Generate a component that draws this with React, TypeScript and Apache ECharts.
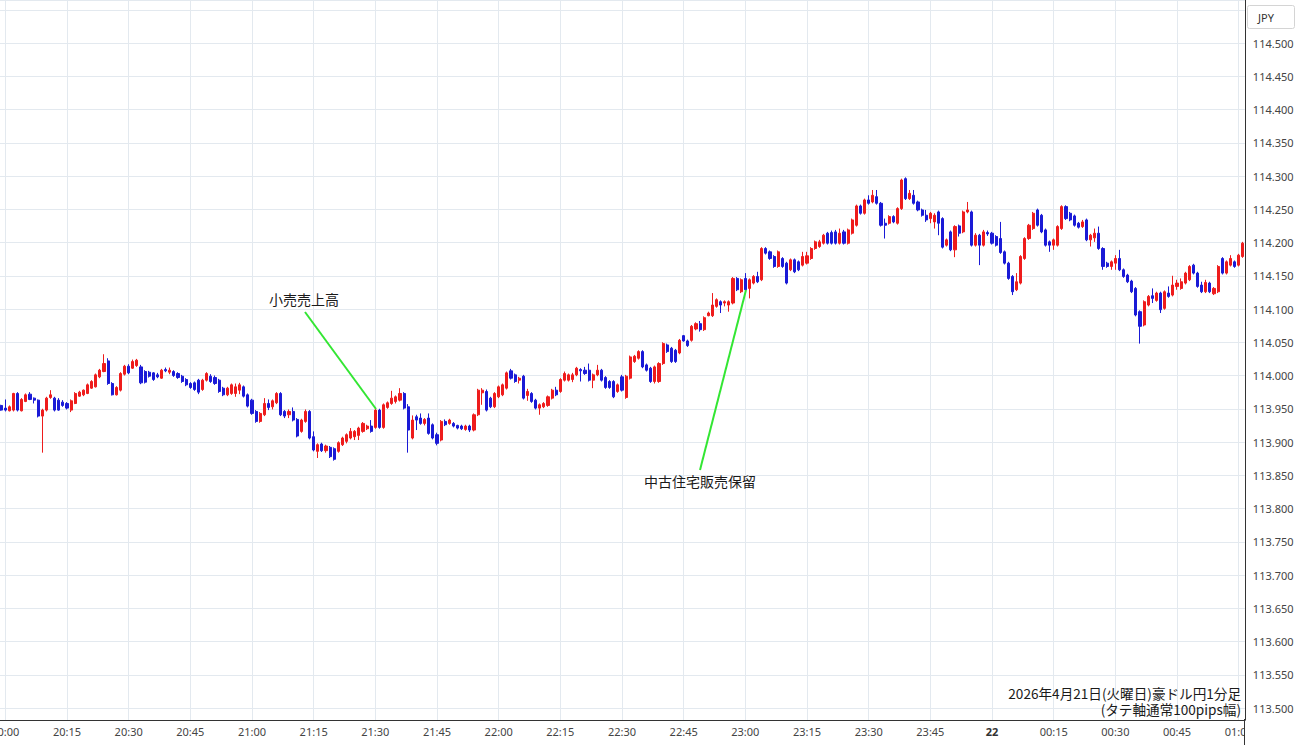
import React, { useEffect, useRef } from "react";
import * as echarts from "echarts";

// first candle time (minutes after 00:00 of the 21st): 19:59
const startMinute = 19 * 60 + 59;
const xTickStep = 15; // minutes
const yTickStep = 0.05; // price
const currencyLabel = "JPY";
const titleLines = ["2026年4月21日(火曜日)豪ドル円1分足", "(タテ軸通常100pips幅)"];
const eventLabels = ["小売売上高", "中古住宅販売保留"];

// [open, close, low, high]
const candles: number[][] = [
  [113.955, 113.948, 113.947, 113.956], [113.951, 113.948, 113.946, 113.964], [113.947, 113.953, 113.946, 113.955],
  [113.948, 113.973, 113.946, 113.974], [113.973, 113.948, 113.946, 113.975], [113.947, 113.964, 113.946, 113.966],
  [113.961, 113.971, 113.960, 113.973], [113.972, 113.964, 113.963, 113.975], [113.966, 113.963, 113.958, 113.967],
  [113.963, 113.939, 113.937, 113.964], [113.939, 113.948, 113.884, 113.950], [113.948, 113.966, 113.946, 113.968],
  [113.967, 113.971, 113.965, 113.978], [113.966, 113.948, 113.946, 113.968], [113.963, 113.948, 113.947, 113.966],
  [113.960, 113.955, 113.953, 113.963], [113.958, 113.951, 113.949, 113.960], [113.948, 113.962, 113.945, 113.964],
  [113.958, 113.973, 113.957, 113.975], [113.969, 113.975, 113.968, 113.977], [113.971, 113.978, 113.969, 113.979],
  [113.973, 113.986, 113.972, 113.988], [113.981, 113.991, 113.980, 113.993], [113.983, 114.001, 113.982, 114.003],
  [113.998, 114.008, 113.996, 114.010], [114.006, 114.018, 114.005, 114.032], [114.022, 113.988, 113.986, 114.026],
  [113.988, 113.971, 113.970, 113.990], [113.971, 113.982, 113.970, 113.984], [113.978, 114.003, 113.976, 114.005],
  [114.002, 114.014, 114.000, 114.016], [114.014, 114.004, 114.002, 114.017], [114.011, 114.021, 114.010, 114.024],
  [114.015, 114.023, 114.013, 114.025], [114.013, 113.989, 113.987, 114.016], [114.006, 113.990, 113.988, 114.008],
  [114.005, 113.999, 113.997, 114.007], [114.004, 113.994, 113.992, 114.005], [114.001, 113.998, 113.996, 114.004],
  [113.996, 114.008, 113.995, 114.010], [114.009, 114.007, 114.005, 114.012], [114.005, 114.008, 114.002, 114.012],
  [114.006, 114.000, 113.998, 114.008], [114.003, 113.997, 113.995, 114.005], [113.999, 113.991, 113.989, 114.001],
  [113.994, 113.986, 113.984, 113.996], [113.988, 113.982, 113.980, 113.990], [113.989, 113.979, 113.977, 113.991],
  [113.993, 113.975, 113.972, 113.995], [113.979, 113.993, 113.977, 113.995], [113.993, 114.003, 113.991, 114.005],
  [113.999, 113.991, 113.989, 114.002], [113.997, 113.988, 113.986, 114.000], [113.993, 113.976, 113.974, 113.995],
  [113.981, 113.971, 113.969, 113.983], [113.971, 113.981, 113.969, 113.983], [113.973, 113.986, 113.971, 113.988],
  [113.973, 113.983, 113.968, 113.988], [113.978, 113.986, 113.972, 113.989], [113.983, 113.969, 113.967, 113.985],
  [113.971, 113.954, 113.952, 113.973], [113.963, 113.943, 113.941, 113.965], [113.946, 113.931, 113.929, 113.948],
  [113.931, 113.943, 113.929, 113.945], [113.941, 113.958, 113.939, 113.966], [113.958, 113.952, 113.948, 113.964],
  [113.953, 113.962, 113.949, 113.964], [113.959, 113.973, 113.957, 113.975], [113.973, 113.941, 113.939, 113.975],
  [113.946, 113.939, 113.936, 113.948], [113.941, 113.946, 113.936, 113.949], [113.946, 113.933, 113.931, 113.952],
  [113.934, 113.909, 113.907, 113.936], [113.916, 113.933, 113.914, 113.935], [113.931, 113.946, 113.929, 113.949],
  [113.946, 113.906, 113.904, 113.948], [113.908, 113.888, 113.886, 113.916], [113.886, 113.896, 113.876, 113.898],
  [113.897, 113.887, 113.885, 113.899], [113.887, 113.894, 113.884, 113.896], [113.892, 113.878, 113.876, 113.894],
  [113.890, 113.874, 113.872, 113.892], [113.886, 113.899, 113.884, 113.901], [113.896, 113.906, 113.894, 113.908],
  [113.901, 113.911, 113.898, 113.913], [113.906, 113.916, 113.904, 113.921], [113.908, 113.916, 113.903, 113.918],
  [113.910, 113.921, 113.903, 113.923], [113.916, 113.928, 113.914, 113.930], [113.920, 113.924, 113.918, 113.926],
  [113.924, 113.916, 113.914, 113.933], [113.922, 113.948, 113.920, 113.952], [113.948, 113.922, 113.920, 113.950],
  [113.922, 113.956, 113.920, 113.958], [113.952, 113.959, 113.950, 113.961], [113.958, 113.966, 113.956, 113.977],
  [113.961, 113.968, 113.958, 113.970], [113.963, 113.973, 113.961, 113.981], [113.973, 113.951, 113.949, 113.975],
  [113.953, 113.918, 113.884, 113.957], [113.906, 113.933, 113.904, 113.940], [113.938, 113.933, 113.918, 113.941],
  [113.936, 113.928, 113.926, 113.943], [113.928, 113.934, 113.925, 113.936], [113.936, 113.913, 113.911, 113.943],
  [113.926, 113.906, 113.904, 113.928], [113.911, 113.898, 113.895, 113.914], [113.903, 113.931, 113.901, 113.933],
  [113.931, 113.926, 113.924, 113.934], [113.928, 113.933, 113.926, 113.935], [113.928, 113.924, 113.922, 113.930],
  [113.925, 113.921, 113.919, 113.926], [113.924, 113.920, 113.918, 113.926], [113.919, 113.924, 113.917, 113.926],
  [113.924, 113.918, 113.915, 113.926], [113.918, 113.941, 113.916, 113.943], [113.941, 113.978, 113.939, 113.980],
  [113.974, 113.978, 113.956, 113.981], [113.976, 113.948, 113.946, 113.979], [113.966, 113.953, 113.951, 113.968],
  [113.953, 113.973, 113.951, 113.975], [113.968, 113.983, 113.966, 113.985], [113.971, 113.986, 113.969, 113.988],
  [113.981, 114.004, 113.979, 114.006], [114.007, 113.996, 113.994, 114.010], [114.001, 113.991, 113.989, 114.003],
  [113.993, 113.996, 113.988, 113.998], [113.999, 113.966, 113.964, 114.001], [113.970, 113.976, 113.962, 113.980],
  [113.973, 113.961, 113.959, 113.975], [113.963, 113.951, 113.949, 113.965], [113.951, 113.956, 113.941, 113.958],
  [113.953, 113.958, 113.951, 113.960], [113.955, 113.968, 113.953, 113.970], [113.966, 113.978, 113.964, 113.980],
  [113.978, 113.971, 113.969, 113.983], [113.976, 113.994, 113.974, 113.996], [113.993, 114.003, 113.991, 114.006],
  [113.993, 114.001, 113.991, 114.003], [113.994, 114.001, 113.990, 114.004], [114.001, 114.011, 113.999, 114.013],
  [114.009, 114.007, 113.991, 114.011], [114.008, 114.003, 114.001, 114.013], [114.008, 113.993, 113.991, 114.018],
  [113.993, 114.001, 113.981, 114.003], [114.001, 114.008, 113.999, 114.016], [114.008, 113.993, 113.991, 114.010],
  [113.997, 113.982, 113.980, 113.999], [113.991, 113.982, 113.980, 113.993], [113.991, 113.968, 113.966, 113.993],
  [113.976, 113.986, 113.974, 113.988], [113.998, 113.978, 113.976, 114.001], [113.967, 113.999, 113.965, 114.001],
  [113.996, 114.028, 113.994, 114.030], [114.021, 114.029, 114.019, 114.031], [114.026, 114.036, 114.024, 114.038],
  [114.036, 114.013, 114.011, 114.038], [114.016, 114.008, 114.006, 114.018], [114.011, 113.991, 113.989, 114.013],
  [113.991, 114.013, 113.988, 114.015], [113.991, 114.018, 113.989, 114.020], [114.018, 114.048, 114.016, 114.050],
  [114.046, 114.036, 114.034, 114.048], [114.041, 114.021, 114.019, 114.043], [114.038, 114.021, 114.019, 114.040],
  [114.034, 114.053, 114.032, 114.055], [114.060, 114.052, 114.051, 114.061], [114.052, 114.045, 114.043, 114.054],
  [114.053, 114.074, 114.051, 114.076], [114.070, 114.078, 114.068, 114.080], [114.078, 114.069, 114.066, 114.082],
  [114.069, 114.087, 114.067, 114.089], [114.090, 114.094, 114.089, 114.096], [114.090, 114.106, 114.088, 114.124],
  [114.104, 114.114, 114.102, 114.116], [114.111, 114.106, 114.094, 114.113], [114.109, 114.111, 114.104, 114.113],
  [114.106, 114.111, 114.096, 114.113], [114.109, 114.146, 114.107, 114.148], [114.146, 114.129, 114.127, 114.148],
  [114.126, 114.144, 114.124, 114.146], [114.146, 114.129, 114.127, 114.154], [114.131, 114.144, 114.116, 114.146],
  [114.139, 114.149, 114.137, 114.151], [114.149, 114.141, 114.139, 114.156], [114.144, 114.191, 114.142, 114.193],
  [114.191, 114.184, 114.182, 114.193], [114.186, 114.176, 114.174, 114.188], [114.179, 114.164, 114.162, 114.181],
  [114.164, 114.186, 114.162, 114.188], [114.176, 114.164, 114.162, 114.178], [114.169, 114.139, 114.137, 114.171],
  [114.159, 114.174, 114.157, 114.176], [114.174, 114.156, 114.154, 114.176], [114.171, 114.159, 114.157, 114.173],
  [114.166, 114.179, 114.164, 114.186], [114.169, 114.180, 114.167, 114.186], [114.176, 114.191, 114.174, 114.193],
  [114.191, 114.201, 114.189, 114.203], [114.194, 114.201, 114.192, 114.204], [114.199, 114.211, 114.197, 114.213],
  [114.214, 114.199, 114.197, 114.216], [114.215, 114.199, 114.197, 114.218], [114.216, 114.199, 114.197, 114.219],
  [114.199, 114.214, 114.197, 114.221], [114.216, 114.199, 114.197, 114.219], [114.199, 114.219, 114.197, 114.221],
  [114.214, 114.234, 114.212, 114.236], [114.226, 114.255, 114.224, 114.257], [114.255, 114.244, 114.242, 114.257],
  [114.244, 114.264, 114.242, 114.266], [114.264, 114.259, 114.257, 114.271], [114.261, 114.271, 114.259, 114.279],
  [114.269, 114.259, 114.257, 114.279], [114.259, 114.226, 114.224, 114.261], [114.229, 114.226, 114.206, 114.236],
  [114.229, 114.239, 114.227, 114.241], [114.239, 114.231, 114.229, 114.241], [114.229, 114.251, 114.227, 114.253],
  [114.251, 114.294, 114.249, 114.296], [114.296, 114.266, 114.264, 114.298], [114.266, 114.274, 114.264, 114.279],
  [114.271, 114.259, 114.257, 114.279], [114.261, 114.249, 114.247, 114.263], [114.249, 114.241, 114.239, 114.251],
  [114.241, 114.234, 114.231, 114.249], [114.236, 114.244, 114.229, 114.246], [114.231, 114.241, 114.221, 114.244],
  [114.246, 114.229, 114.211, 114.248], [114.236, 114.193, 114.191, 114.238], [114.196, 114.204, 114.194, 114.206],
  [114.216, 114.189, 114.187, 114.218], [114.189, 114.224, 114.178, 114.226], [114.225, 114.214, 114.209, 114.227],
  [114.216, 114.246, 114.214, 114.248], [114.246, 114.249, 114.244, 114.261], [114.246, 114.196, 114.194, 114.248],
  [114.196, 114.211, 114.194, 114.214], [114.211, 114.196, 114.166, 114.213], [114.196, 114.216, 114.194, 114.219],
  [114.215, 114.213, 114.210, 114.218], [114.214, 114.199, 114.197, 114.216], [114.209, 114.196, 114.194, 114.211],
  [114.206, 114.185, 114.183, 114.231], [114.186, 114.169, 114.167, 114.188], [114.169, 114.146, 114.144, 114.171],
  [114.149, 114.126, 114.121, 114.151], [114.129, 114.141, 114.127, 114.154], [114.139, 114.179, 114.137, 114.181],
  [114.176, 114.206, 114.174, 114.208], [114.206, 114.226, 114.204, 114.228], [114.221, 114.244, 114.219, 114.246],
  [114.249, 114.226, 114.224, 114.251], [114.241, 114.216, 114.214, 114.243], [114.219, 114.196, 114.194, 114.221],
  [114.201, 114.196, 114.186, 114.203], [114.196, 114.204, 114.189, 114.206], [114.196, 114.224, 114.194, 114.226],
  [114.221, 114.254, 114.219, 114.256], [114.254, 114.236, 114.234, 114.256], [114.244, 114.234, 114.232, 114.246],
  [114.240, 114.226, 114.224, 114.242], [114.229, 114.223, 114.221, 114.231], [114.224, 114.231, 114.222, 114.234],
  [114.234, 114.204, 114.202, 114.236], [114.204, 114.211, 114.194, 114.213], [114.207, 114.214, 114.201, 114.221],
  [114.214, 114.191, 114.189, 114.224], [114.191, 114.164, 114.159, 114.193], [114.169, 114.164, 114.162, 114.171],
  [114.164, 114.171, 114.159, 114.173], [114.169, 114.176, 114.159, 114.181], [114.176, 114.159, 114.157, 114.189],
  [114.159, 114.149, 114.147, 114.161], [114.151, 114.141, 114.139, 114.153], [114.142, 114.126, 114.124, 114.144],
  [114.131, 114.091, 114.089, 114.133], [114.096, 114.074, 114.048, 114.098], [114.076, 114.111, 114.074, 114.113],
  [114.106, 114.119, 114.104, 114.121], [114.120, 114.116, 114.109, 114.131], [114.113, 114.124, 114.111, 114.126],
  [114.124, 114.099, 114.094, 114.126], [114.101, 114.126, 114.099, 114.128], [114.124, 114.119, 114.117, 114.134],
  [114.121, 114.136, 114.119, 114.150], [114.134, 114.139, 114.129, 114.144], [114.131, 114.141, 114.129, 114.146],
  [114.139, 114.154, 114.137, 114.156], [114.144, 114.164, 114.142, 114.166], [114.166, 114.154, 114.152, 114.168],
  [114.154, 114.134, 114.132, 114.156], [114.136, 114.126, 114.124, 114.141], [114.126, 114.140, 114.124, 114.144],
  [114.139, 114.126, 114.124, 114.141], [114.123, 114.131, 114.121, 114.133], [114.126, 114.164, 114.124, 114.166],
  [114.176, 114.154, 114.152, 114.178], [114.154, 114.171, 114.152, 114.173], [114.166, 114.176, 114.164, 114.181],
  [114.171, 114.164, 114.162, 114.173], [114.166, 114.181, 114.164, 114.183], [114.179, 114.199, 114.177, 114.201],
];

const UP = "#ee1c1c";
const DOWN = "#1a1ad6";
const GRID = "#e3e9ef";
const AXIS = "#333333";
const FONT = '"Noto Sans", "Noto Sans CJK JP", sans-serif';
const CJK = '"Noto Sans CJK JP", "Noto Sans", sans-serif';

const Y_MIN = 113.482;
const Y_MAX = 114.5647;

// one category per candle: "HH:MM"
const categories: string[] = candles.map((_, k) => {
  const t = (startMinute + k) % 1440;
  return `${String(Math.floor(t / 60)).padStart(2, "0")}:${String(t % 60).padStart(2, "0")}`;
});

function isMultiple(v: number, step: number) {
  const n = v / step;
  return Math.abs(n - Math.round(n)) < 1e-6;
}

function onQuarter(index: number) {
  return (startMinute + index) % xTickStep === 0;
}

function timeLabel(value: string) {
  return value === "00:00" ? "{b|22}" : value;
}

export default function App() {
  const ref = useRef<HTMLDivElement>(null);

  useEffect(() => {
    if (!ref.current) return;
    const chart = echarts.init(ref.current, null, { renderer: "svg" });

    const lineStyle = { stroke: "#33e633", lineWidth: 2 };
    const textStyle = (text: string, x: number, y: number, align: string, size: number) => ({
      text,
      x,
      y,
      fill: "#1a1a1a",
      font: `${size}px ${CJK}`,
      lineHeight: 16,
      textAlign: align,
      align,
      textVerticalAlign: "middle",
      verticalAlign: "middle",
    });

    chart.setOption({
      animation: false,
      backgroundColor: "#ffffff",
      textStyle: { fontFamily: FONT },
      grid: {
        left: -0.84,
        right: 55.13,
        top: 0,
        bottom: 25,
        containLabel: false,
        outerBoundsMode: "none",
      },
      xAxis: {
        type: "category",
        data: categories,
        boundaryGap: true,
        axisLine: { show: true, onZero: false, lineStyle: { color: AXIS, width: 1 } },
        axisTick: { show: false },
        axisLabel: {
          color: "#444",
          fontSize: 11,
          fontFamily: FONT,
          margin: 6,
          interval: (index: number) => onQuarter(index),
          formatter: timeLabel,
          rich: { b: { fontWeight: "bold", fontSize: 11, color: "#333", fontFamily: FONT } },
        },
        splitLine: {
          show: true,
          alignWithLabel: true,
          interval: (index: number) => onQuarter(index),
          lineStyle: { color: GRID, width: 1 },
        },
      },
      yAxis: {
        type: "value",
        position: "right",
        scale: true,
        min: Y_MIN,
        max: Y_MAX,
        splitNumber: 20,
        minInterval: yTickStep,
        maxInterval: yTickStep,
        axisLine: { show: true, lineStyle: { color: AXIS, width: 1 } },
        axisTick: { show: false },
        axisLabel: {
          color: "#444",
          fontSize: 11,
          fontFamily: FONT,
          margin: 8,
          formatter: (v: number) =>
            isMultiple(v, yTickStep) && v < Y_MAX - 0.03 ? v.toFixed(3) : "",
        },
        splitLine: { show: true, lineStyle: { color: GRID, width: 1 } },
      },
      series: [
        {
          type: "candlestick",
          data: candles,
          barWidth: 2.6,
          itemStyle: {
            color: UP,
            color0: DOWN,
            borderColor: UP,
            borderColor0: DOWN,
            borderWidth: 1,
          },
        },
      ],
      graphic: [
        { type: "line", z: 50, shape: { x1: 305, y1: 312, x2: 376, y2: 409 }, style: lineStyle },
        { type: "line", z: 50, shape: { x1: 700, y1: 470, x2: 746, y2: 290 }, style: lineStyle },
        { type: "text", z: 50, style: textStyle(eventLabels[0], 304, 299, "center", 14) },
        { type: "text", z: 50, style: textStyle(eventLabels[1], 700, 481, "center", 14) },
        { type: "text", z: 50, style: textStyle(titleLines.join("\n"), 1241, 701, "right", 13.6) },
        {
          type: "rect",
          z: 100,
          shape: { x: 1245, y: 721, width: 55, height: 24 },
          style: { fill: "#ffffff", stroke: "none" },
        },
        {
          type: "line",
          z: 101,
          shape: { x1: 1244.5, y1: 719, x2: 1244.5, y2: 745 },
          style: { stroke: AXIS, lineWidth: 1 },
        },
        {
          type: "rect",
          z: 100,
          shape: { x: 1247.5, y: 5.5, width: 47, height: 23, r: 2 },
          style: { fill: "#ffffff", stroke: "#d4d4d4", lineWidth: 1 },
        },
        {
          type: "text",
          z: 101,
          style: {
            text: currencyLabel,
            x: 1266,
            y: 17,
            fill: "#333",
            font: `11px ${FONT}`,
            textAlign: "center",
            align: "center",
            textVerticalAlign: "middle",
            verticalAlign: "middle",
          },
        },
      ],
    });

    return () => chart.dispose();
  }, []);

  return (
    <div
      ref={ref}
      style={{ position: "fixed", left: 0, top: 0, width: 1300, height: 745 }}
    />
  );
}
